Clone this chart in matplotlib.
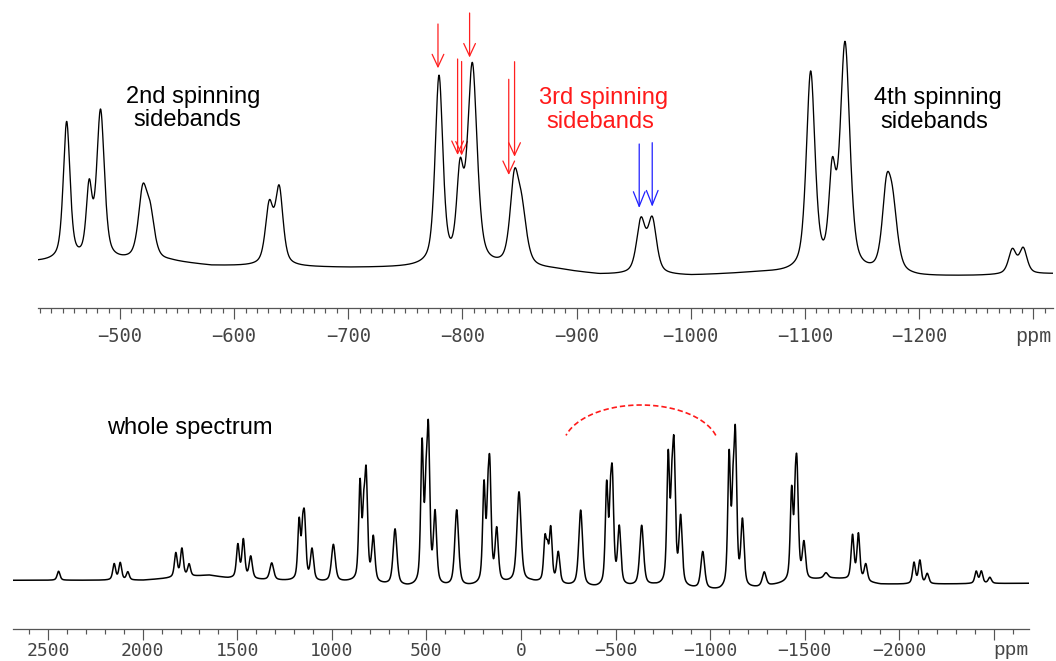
import numpy as np
import matplotlib
matplotlib.use("Agg")
import matplotlib.pyplot as plt
from matplotlib.patches import FancyArrowPatch

# ---------------- data: expanded region (top) ----------------
top_peak_ppm = [-453.3, -473.0, -483.0, -519.9, -526.5, -630.8, -639.5,
                -779.5, -797.9, -808.7, -845.5, -852.0, -956.4, -966.3,
                -1105.1, -1124.0, -1135.2, -1171.5, -1177.0, -1281.8, -1291.3]
top_peak_amp = [138, 68, 148, 65, 41, 58, 75,
                188, 82, 199, 80, 50, 52, 53,
                198, 87, 226, 72, 58, 24, 25]
top_peak_fwhm = [7, 6, 8, 9, 9, 8, 8,
                 8, 7, 10, 9, 10, 9, 9,
                 9, 7, 10, 9, 10, 8, 8]
top_base_ppm = [-428, -545, -580, -700, -760, -880, -920, -1000, -1060, -1200, -1250, -1317]
top_base_val = [46, 46, 42, 40, 40, 38, 33, 32, 35, 31, 32, 34]
top_ticks = [-500, -600, -700, -800, -900, -1000, -1100, -1200, -1300]
top_tick_labels = ["\u2212500", "\u2212600", "\u2212700", "\u2212800", "\u2212900",
                   "\u22121000", "\u22121100", "\u22121200", "ppm"]

# red / blue arrows: (ppm, start value, tip value)
red_arrow_ppm = [-778.6, -806.3, -795.8, -799.3, -840.6, -845.7]
red_arrow_start = [284, 295, 249, 246.5, 228.7, 246.3]
red_arrow_tip = [239.7, 250.5, 153, 152.5, 133, 151.3]
blue_arrow_ppm = [-954.9, -966.3]
blue_arrow_start = [164, 165.3]
blue_arrow_tip = [100, 101.3]

# ---------------- data: whole spectrum (bottom) ----------------
bot_peak_ppm = [2445,
                2151, 2119, 2079,
                1825, 1793, 1755,
                1497, 1468, 1429,
                1318,
                1173, 1155, 1145, 1105,
                992,
                851, 832, 819, 781,
                666,
                523, 503, 490, 454.5,
                340,
                195.6, 176, 165.4, 128.4,
                10.6,
                -127, -140, -157, -197,
                -315.5,
                -453, -472, -482.6, -519.6,
                -638,
                -778.5, -797, -808.7, -844,
                -961,
                -1100.5, -1120, -1133, -1171,
                -1286,
                -1431, -1450, -1459, -1496,
                -1612,
                -1753, -1784, -1823,
                -2078, -2109, -2148,
                -2407, -2434, -2479]
bot_peak_amp = [9,
                16, 17, 8,
                24, 28, 12,
                33, 38, 22,
                17,
                58, 32, 58, 31,
                37,
                96, 50, 104, 44,
                56,
                138, 66, 148, 70,
                76,
                96, 50, 110, 52,
                90,
                42, 24, 53, 31,
                76,
                98, 52, 102, 57,
                60,
                126, 62, 130, 67,
                37,
                130, 64, 147, 65,
                14,
                88, 50, 102, 36,
                5,
                44, 46, 17,
                21, 23, 10,
                12, 12, 6]
bot_peak_fwhm = [18,
                 18, 18, 18,
                 18, 18, 18,
                 18, 18, 20,
                 24,
                 17, 14, 18, 20,
                 24,
                 17, 14, 18, 20,
                 24,
                 17, 14, 18, 20,
                 24,
                 17, 14, 18, 20,
                 26,
                 17, 14, 18, 20,
                 24,
                 17, 14, 18, 20,
                 24,
                 17, 14, 18, 20,
                 24,
                 17, 14, 18, 20,
                 24,
                 17, 14, 18, 20,
                 24,
                 18, 18, 20,
                 18, 18, 20,
                 18, 18, 20]
bot_base_ppm = [2685, 2000, 1650, 1550, 1350, 1050, 900, 600, 300, 50, -50, -250,
                -400, -700, -1050, -1250, -1380, -1620, -1700, -1900, -2100, -2685]
bot_base_val = [49, 49, 54, 51, 49, 47, 47, 42, 42, 46, 47, 43,
                41, 43, 38, 41, 45, 51, 50, 45, 45, 46]
bot_ticks = [2500, 2000, 1500, 1000, 500, 0, -500, -1000, -1500, -2000, -2500]
bot_tick_labels = ["2500", "2000", "1500", "1000", "500", "0", "\u2212500",
                   "\u22121000", "\u22121500", "\u22122000", ""]

# dashed arc annotation (centre ppm, half width ppm, centre value, half height)
arc_center_ppm, arc_half_width = -634, 412
arc_center_val, arc_half_height = 182.3, 42
arc_theta = (16, 164)

ETA = 0.55


def spectrum(x, ppm, amp, fwhm, base_ppm, base_val):
    bp = np.asarray(base_ppm, float)
    bv = np.asarray(base_val, float)
    order = np.argsort(bp)
    y = np.interp(x, bp[order], bv[order])
    for c, a, w in zip(ppm, amp, fwhm):
        d = (x - c) / w
        lor = 1.0 / (1.0 + 4.0 * d ** 2)
        gau = np.exp(-4.0 * np.log(2) * d ** 2)
        y = y + a * (ETA * lor + (1 - ETA) * gau)
    return y


W, H = 1056, 661
fig = plt.figure(figsize=(W / 100, H / 100), dpi=100)

txt_font = ["Liberation Sans", "DejaVu Sans"]
tick_font = "DejaVu Sans Mono"
tick_color = "#454545"


def style_axis(ax, pad, size):
    for s in ("top", "left", "right"):
        ax.spines[s].set_visible(False)
    ax.spines["bottom"].set_color("#555555")
    ax.spines["bottom"].set_linewidth(0.9)
    ax.set_yticks([])
    ax.patch.set_alpha(0)
    ax.tick_params(axis="x", which="major", direction="out", length=7.9, width=0.85,
                   color="#555555", pad=pad, labelsize=size, labelcolor=tick_color)
    ax.tick_params(axis="x", which="minor", direction="out", length=3.3, width=0.85,
                   color="#555555")
    for lab in ax.get_xticklabels():
        lab.set_fontfamily(tick_font)


# ---- top axes ----
ax1 = fig.add_axes([38 / W, (H - 308) / H, (1053 - 38) / W, 308 / H])
xt = np.linspace(-428.2, -1317.4, 4000)
ax1.plot(xt, spectrum(xt, top_peak_ppm, top_peak_amp, top_peak_fwhm,
                      top_base_ppm, top_base_val), color="black", lw=0.95)
ax1.set_xlim(-428.2, -1317.4)
ax1.set_ylim(0, 308)
ax1.set_xticks(top_ticks)
ax1.set_xticklabels(top_tick_labels)
ax1.set_xticks(np.arange(-430, -1311, -10), minor=True)
style_axis(ax1, 6.0, 13.5)
ax1.get_xticklabels()[-1].set_fontfamily("Liberation Mono")
ax1.get_xticklabels()[-1].set_fontsize(14.5)

for p, s, t in zip(red_arrow_ppm, red_arrow_start, red_arrow_tip):
    ax1.add_patch(FancyArrowPatch((p, s), (p, t), arrowstyle="->,head_length=9,head_width=4.2",
                                  mutation_scale=1, color="#ff1f1f", lw=0.9,
                                  shrinkA=0, shrinkB=0))
for p, s, t in zip(blue_arrow_ppm, blue_arrow_start, blue_arrow_tip):
    ax1.add_patch(FancyArrowPatch((p, s), (p, t), arrowstyle="->,head_length=10.5,head_width=4.2",
                                  mutation_scale=1, color="#2020ff", lw=0.9,
                                  shrinkA=0, shrinkB=0))


def fig_text(xpx, ypx, s, color="black"):
    fig.text(xpx / W, 1 - ypx / H, s, ha="center", va="center", fontsize=17,
             family=txt_font, color=color)


fig_text(193, 96.7, "2nd spinning")
fig_text(187.5, 120, "sidebands")
fig_text(603.3, 98.3, "3rd spinning", color="#ff1a1a")
fig_text(600, 121.7, "sidebands", color="#ff1a1a")
fig_text(937.5, 98.3, "4th spinning")
fig_text(934.5, 121.7, "sidebands")
fig_text(189.5, 428.3, "whole spectrum")

# ---- bottom axes ----
yb = 629.3
ax2 = fig.add_axes([13 / W, (H - yb) / H, (1029 - 13) / W, (yb - 370) / H])
xb = np.linspace(2686, -2686, 8000)
ax2.plot(xb, spectrum(xb, bot_peak_ppm, bot_peak_amp, bot_peak_fwhm,
                      bot_base_ppm, bot_base_val), color="black", lw=1.1)
ax2.set_xlim(2686, -2686)
ax2.set_ylim(0, yb - 370)
ax2.set_xticks(bot_ticks)
ax2.set_xticklabels(bot_tick_labels)
ax2.set_xticks(np.arange(2600, -2601, -100), minor=True)
style_axis(ax2, 1.0, 13.0)
ax2.text(-2588, -0.083, "ppm", transform=ax2.get_xaxis_transform(), ha="center",
         va="center", fontsize=14.0, family="Liberation Mono", color=tick_color)

th = np.deg2rad(np.linspace(arc_theta[0], arc_theta[1], 200))
ax2.plot(arc_center_ppm - arc_half_width * np.cos(th),
         arc_center_val + arc_half_height * np.sin(th),
         color="#ff1a1a", lw=1.2, linestyle=(0, (3.2, 1.8)))

fig.savefig("out.png", dpi=100)
